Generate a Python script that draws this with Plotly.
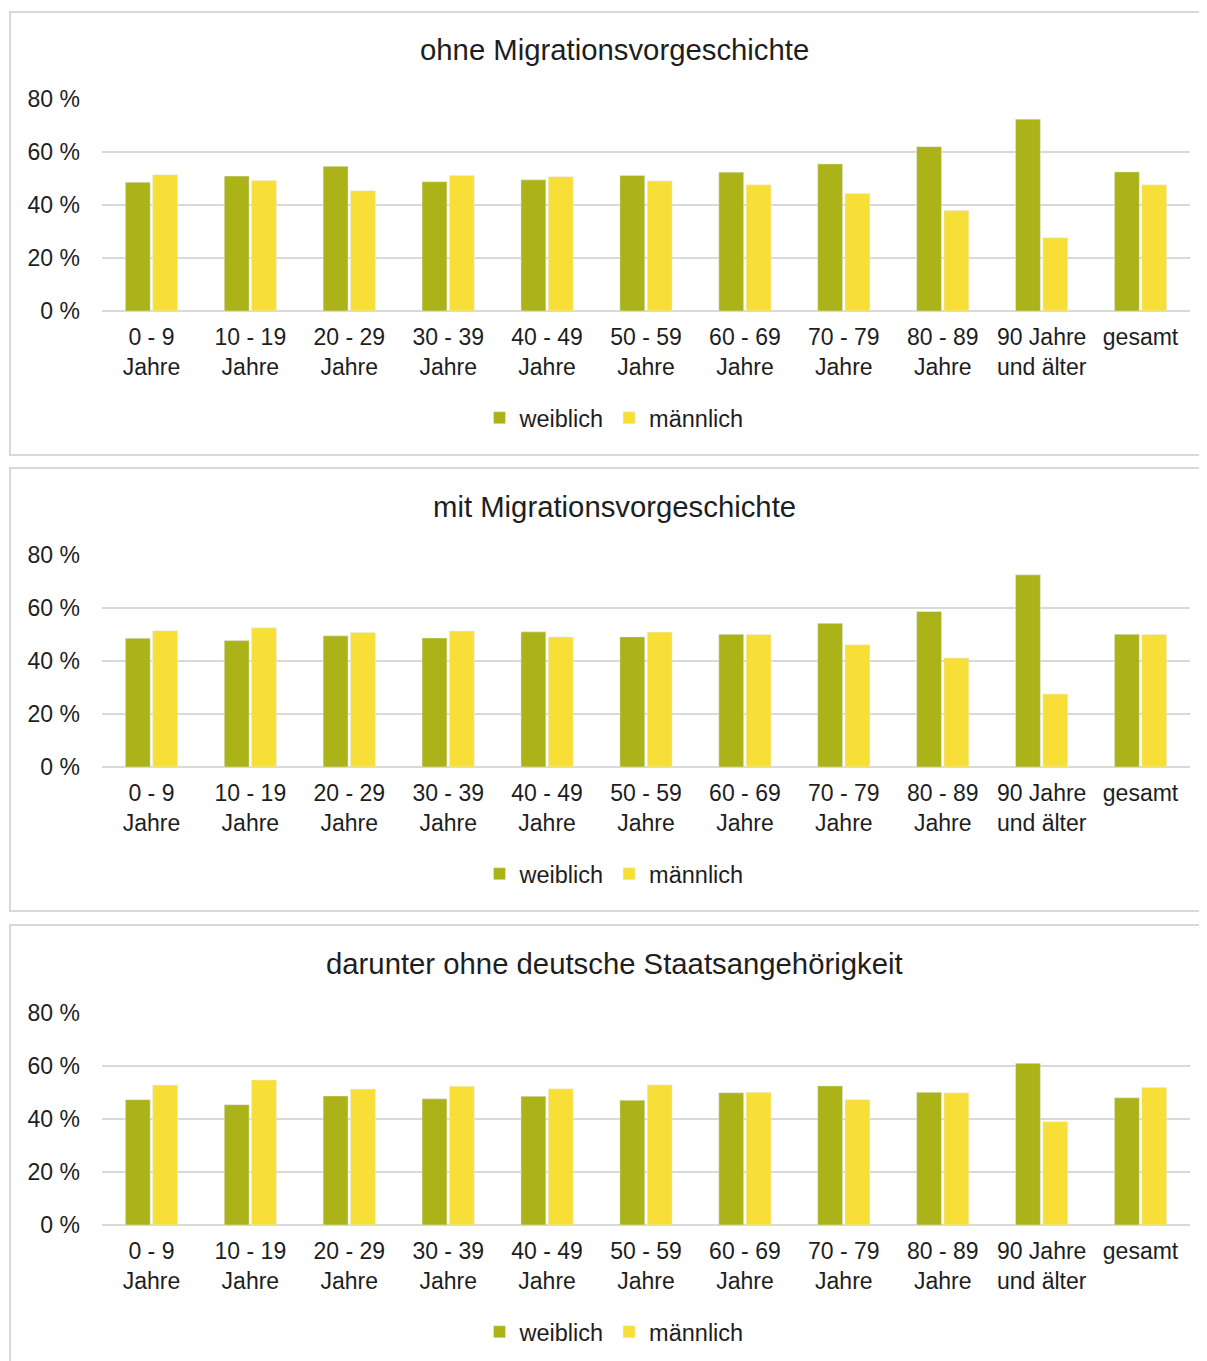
import plotly.graph_objects as go

# Categories and values (share in %)
categories = [
    "0 - 9<br>Jahre", "10 - 19<br>Jahre", "20 - 29<br>Jahre", "30 - 39<br>Jahre",
    "40 - 49<br>Jahre", "50 - 59<br>Jahre", "60 - 69<br>Jahre", "70 - 79<br>Jahre",
    "80 - 89<br>Jahre", "90 Jahre<br>und älter", "gesamt",
]

panel_titles = [
    "ohne Migrationsvorgeschichte",
    "mit Migrationsvorgeschichte",
    "darunter ohne deutsche Staatsangehörigkeit",
]

ohne_weiblich = [48.6, 50.9, 54.6, 48.8, 49.5, 51.1, 52.4, 55.5, 62.0, 72.4, 52.5]
ohne_maennlich = [51.4, 49.2, 45.4, 51.1, 50.7, 49.1, 47.6, 44.3, 37.9, 27.6, 47.6]

mit_weiblich = [48.6, 47.7, 49.5, 48.7, 51.0, 49.1, 50.1, 54.2, 58.7, 72.5, 50.1]
mit_maennlich = [51.4, 52.5, 50.8, 51.3, 49.1, 50.9, 50.0, 46.1, 41.1, 27.5, 50.0]

ausl_weiblich = [47.3, 45.4, 48.7, 47.6, 48.6, 47.1, 49.9, 52.5, 50.1, 61.0, 48.0]
ausl_maennlich = [52.8, 54.7, 51.3, 52.4, 51.4, 52.9, 50.1, 47.3, 49.9, 39.0, 51.9]

y_ticks = [0, 20, 40, 60, 80]
y_ticktext = ["0 %", "20 %", "40 %", "60 %", "80 %"]

W, H = 1207, 1361
OFF = 8  # page body margin in the browser
GREEN = "#abb318"
YELLOW = "#f8df38"
GRID = "#d9d9d9"
TEXT = "#1e1e1e"
FONT = "Liberation Sans, Arial, sans-serif"

# pixel layout of each panel: (box top, box bottom, plot top, plot bottom, title y, legend y)
panels = [
    (12, 455, 99, 311, 50, 418),
    (468, 911, 555, 767, 506, 874),
    (925, 1400, 1013, 1225, 964, 1332),
]
series = [
    (ohne_weiblich, ohne_maennlich),
    (mit_weiblich, mit_maennlich),
    (ausl_weiblich, ausl_maennlich),
]


def px(p):
    return (p - OFF) / W


def py(p):
    return 1 - (p - OFF) / H


fig = go.Figure()
shapes = []
annotations = []
layout = {}

for i, ((box_t, box_b, top, bot, title_y, leg_y), (w, m), title) in enumerate(
    zip(panels, series, panel_titles)
):
    n = "" if i == 0 else str(i + 1)
    xa, ya = "x" + n, "y" + n
    leg = "legend" + n

    fig.add_trace(go.Bar(x=categories, y=w, name="weiblich", marker_color=GREEN,
                         xaxis=xa, yaxis=ya, legend=leg))
    fig.add_trace(go.Bar(x=categories, y=m, name="männlich", marker_color=YELLOW,
                         xaxis=xa, yaxis=ya, legend=leg))

    layout["xaxis" + n] = dict(
        domain=[px(102), px(1190)], anchor=ya, showgrid=False, showline=False,
        ticks="", tickfont=dict(size=23, color=TEXT, family=FONT),
        ticklabelstandoff=10, fixedrange=True, automargin=False,
    )
    layout["yaxis" + n] = dict(
        domain=[py(bot), py(top)], anchor=xa, range=[0, 80],
        tickmode="array", tickvals=y_ticks, ticktext=y_ticktext,
        showgrid=True, gridcolor=GRID, gridwidth=1.7,
        zeroline=True, zerolinecolor=GRID, zerolinewidth=1.7, showline=False,
        ticks="", tickfont=dict(size=23, color=TEXT, family=FONT),
        ticklabelstandoff=21, fixedrange=True, automargin=False,
    )
    layout[leg] = dict(
        orientation="h", x=px(614), xanchor="center", y=py(leg_y), yanchor="middle",
        font=dict(size=23.5, color=TEXT, family=FONT), itemwidth=30,
        bgcolor="rgba(0,0,0,0)", traceorder="normal",
    )

    shapes.append(dict(type="rect", xref="paper", yref="paper",
                       x0=px(10), x1=1.05, y0=py(box_b), y1=py(box_t),
                       line=dict(color=GRID, width=2), layer="below"))
    annotations.append(dict(text=title, xref="paper", yref="paper",
                            x=px(614), y=py(title_y), xanchor="center",
                            yanchor="middle", showarrow=False,
                            font=dict(size=29.3, color=TEXT, family=FONT)))

fig.update_layout(
    **layout,
    width=W, height=H,
    margin=dict(l=0, r=0, t=0, b=0, autoexpand=False),
    paper_bgcolor="white", plot_bgcolor="white",
    barmode="group", bargap=0.447, bargroupgap=0.09,
    shapes=shapes, annotations=annotations,
    font=dict(family=FONT, color=TEXT),
)

fig.write_html("out.html")
